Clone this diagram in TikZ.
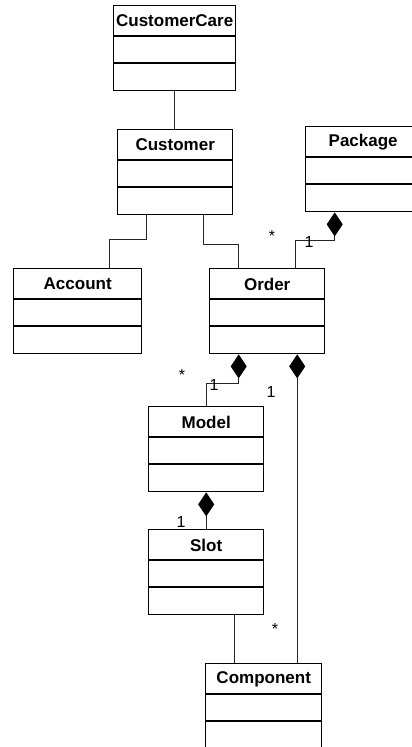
\documentclass[tikz,border=0pt]{standalone}
\usepackage{fontspec}
\setmainfont{Liberation Sans}
\usetikzlibrary{arrows.meta}

\tikzset{
  classbox/.style={draw,line width=1.4pt,minimum height=85pt,anchor=north west,inner sep=0pt},
  classname/.style={font=\bfseries\fontsize{17}{19}\selectfont},
  assoc/.style={line width=0.9pt,black!85},
  compos/.style={assoc,{Diamond[length=24pt,width=16pt,black]}-},
  mult/.style={font=\fontsize{16}{18}\selectfont,anchor=base,inner sep=0pt},
}

\begin{document}
\begin{tikzpicture}[x=1pt,y=-1pt]

\useasboundingbox (0,0) rectangle (412,747);

%=================================================
% CLASSES
%=================================================

\node[classbox,minimum width=122pt] (cc)   at (113,5)   {};
\node[classbox,minimum width=115pt] (cust) at (117,129) {};
\node[classbox,minimum width=115pt] (pkg)  at (305,126) {};
\node[classbox,minimum width=128pt] (acc)  at (13,268)  {};
\node[classbox,minimum width=115pt] (ord)  at (209,268) {};
\node[classbox,minimum width=115pt] (mdl)  at (148,406) {};
\node[classbox,minimum width=115pt] (slot) at (148,529) {};
\node[classbox,minimum width=116pt] (comp) at (205,663) {};

% names
\foreach \n/\t in {cc/CustomerCare,cust/Customer,pkg/Package,acc/Account,
                   ord/Order,mdl/Model,slot/Slot,comp/Component}
{
\node[classname] (\n-name)
at ([yshift=-16pt]\n.north)
{\t};
}

% compartments
\foreach \n in {cc,cust,pkg,acc,ord,mdl,slot,comp}
{
\foreach \d in {31,58}
{
\draw[line width=1.4pt]
([yshift=-\d pt]\n.north west)--([yshift=-\d pt]\n.north east);
}
}

%=================================================
% ASSOCIATIONS
%=================================================

% CustomerCare - Customer
\draw[assoc]
(cc.south)--(cc.south |- cust.north);

% Customer - Account
\draw[assoc]
([xshift=-28.5pt]cust.south)--++(0,24)-|([xshift=32pt]acc.north);

% Customer - Order
\draw[assoc]
([xshift=28.5pt]cust.south)--++(0,29)-|([xshift=-28.5pt]ord.north);

% Slot - Component
\draw[assoc]
([xshift=28.5pt]slot.south)--([xshift=28.5pt]slot.south |- comp.north);

%=================================================
% COMPOSITIONS
%=================================================

% Package - Order
\draw[compos]
([xshift=-28.5pt]pkg.south)--++(0,28)-|([xshift=28.5pt]ord.north);

% Order - Model
\draw[compos]
([xshift=-28.5pt]ord.south)--++(0,29)-|(mdl.north);

% Order - Component
\draw[compos]
([xshift=30pt]ord.south)--([xshift=30pt]ord.south |- comp.north);

% Model - Slot
\draw[compos]
(mdl.south)--(slot.north);

%=================================================
% MULTIPLICITIES
%=================================================

\node[mult] (m-pkg-star) at (272,241) {*};
\node[mult] (m-pkg-one)  at (309,247) {1};
\node[mult] (m-mdl-star) at (182,380) {*};
\node[mult] (m-mdl-one)  at (214,390) {1};
\node[mult] (m-comp-one) at (271,397) {1};
\node[mult] (m-slot-one) at (181,527) {1};
\node[mult] (m-comp-star) at (275,634) {*};

\end{tikzpicture}
\end{document}
